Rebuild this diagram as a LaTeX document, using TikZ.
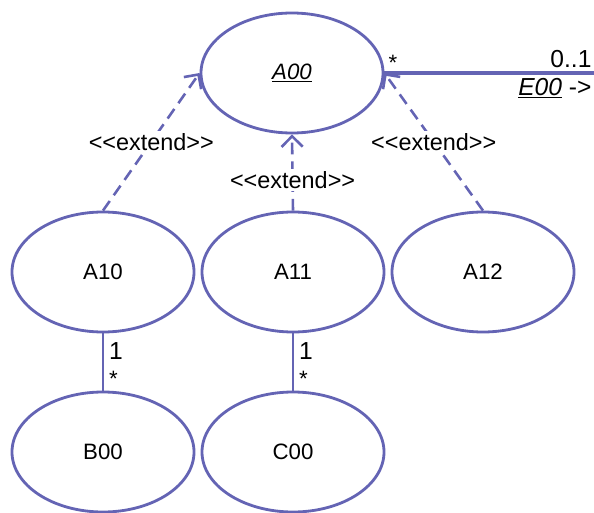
\documentclass[tikz,border=0pt]{standalone}
\usepackage{fontspec}
\newfontfamily\umlfont{Liberation Sans}
\usetikzlibrary{shapes.geometric,arrows.meta}
\definecolor{umlblue}{RGB}{100,100,180}

\begin{document}
\begin{tikzpicture}[x=0.03cm, y=-0.03cm,
    font=\umlfont\fontsize{19}{22}\selectfont,
    usecase/.style={ellipse, draw=umlblue, line width=2.4pt, minimum width=5.46cm, minimum height=3.6cm, inner sep=0pt},
    extendline/.style={draw=umlblue, line width=2.2pt, dash pattern=on 10pt off 6pt, -{Straight Barb[length=9pt, width=18pt, line width=2.2pt]}},
    extendlabel/.style={fill=white, inner sep=2pt, font=\umlfont\fontsize{20}{23}\selectfont},
    multlabel/.style={font=\umlfont\fontsize{21}{24}\selectfont},
    assoc/.style={draw=umlblue, line width=2.4pt}]

  \useasboundingbox (0,0) rectangle (594,513);

  % use cases
  \node[usecase] (a00) at (292,73) {\underline{\textit{A00}}};
  \node[usecase] (a10) at (103,272) {A10};
  \node[usecase] (a11) at (293,272) {A11};
  \node[usecase] (a12) at (483,272) {A12};
  \node[usecase] (b00) at (103,452) {B00};
  \node[usecase] (c00) at (293,452) {C00};

  % extend relations
  \draw[extendline] (a10.north) -- node[extendlabel, pos=0.5] {<<extend>>} (a00.west);
  \draw[extendline] (a11.north) -- node[extendlabel, pos=0.4] {<<extend>>} (a00.south);
  \draw[extendline] (a12.north) -- node[extendlabel, pos=0.5] {<<extend>>} (a00.east);

  % association to the right
  \coordinate (eend) at (594,73);
  \draw[assoc, line width=3pt] (a00.east) -- (eend);
  \node[anchor=south west, inner sep=2pt] (star) at ([xshift=0.05cm]a00.east) {*};
  \node[multlabel, anchor=south east, inner xsep=2pt, inner ysep=4pt] (mult) at (eend) {0..1};
  \node[multlabel, anchor=north east, inner xsep=2pt, inner ysep=4pt] (ename) at (eend) {\underline{\textit{E00}} ->};

  % associations below
  \draw[assoc] (a10.south) -- node[multlabel, pos=0.3, right, inner sep=4pt] (m1) {1} node[pos=0.8, right, inner sep=4pt] (m2) {*} (b00.north);
  \draw[assoc] (a11.south) -- node[multlabel, pos=0.3, right, inner sep=4pt] (m3) {1} node[pos=0.8, right, inner sep=4pt] (m4) {*} (c00.north);

\end{tikzpicture}
\end{document}
